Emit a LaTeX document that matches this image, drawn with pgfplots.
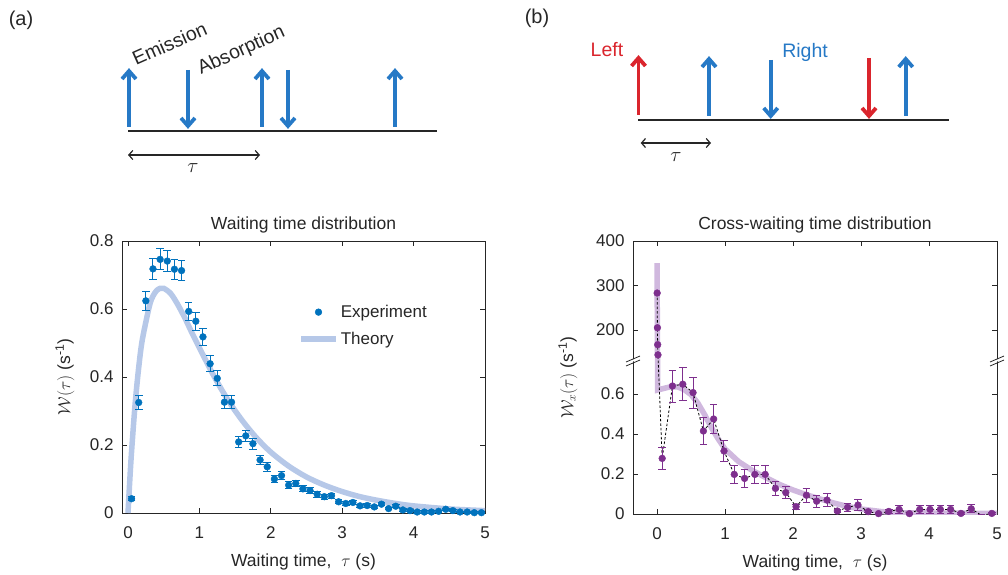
\documentclass[border=0pt]{standalone}
\usepackage{fontspec}
\setmainfont{Liberation Sans}
\usepackage{pgfplots}
\pgfplotsset{compat=1.18}
\usepackage{pgfplotstable}
\usetikzlibrary{arrows.meta}

\definecolor{expblue}{RGB}{0,114,189}
\definecolor{theoblue}{RGB}{182,200,232}
\definecolor{exppurple}{RGB}{126,47,142}
\definecolor{theopurple}{RGB}{208,184,222}
\definecolor{arrblue}{RGB}{38,121,198}
\definecolor{arrred}{RGB}{218,37,45}
\definecolor{txt}{RGB}{38,38,38}

\pgfplotstableread{
x y e
0.05 0.042 0.006
0.15 0.325 0.021
0.25 0.624 0.028
0.35 0.718 0.030
0.45 0.746 0.031
0.55 0.741 0.030
0.65 0.717 0.030
0.75 0.713 0.030
0.85 0.593 0.027
0.95 0.564 0.026
1.05 0.518 0.025
1.15 0.439 0.023
1.25 0.396 0.022
1.35 0.326 0.020
1.45 0.326 0.020
1.55 0.209 0.016
1.65 0.227 0.017
1.75 0.204 0.016
1.85 0.156 0.014
1.95 0.136 0.013
2.05 0.100 0.011
2.15 0.110 0.011
2.25 0.082 0.010
2.35 0.087 0.010
2.45 0.071 0.009
2.55 0.066 0.009
2.65 0.055 0.008
2.75 0.048 0.007
2.85 0.051 0.007
2.95 0.033 0.006
3.05 0.028 0.006
3.15 0.031 0.006
3.25 0.021 0.005
3.35 0.022 0.005
3.45 0.018 0.005
3.55 0.026 0.005
3.65 0.013 0.004
3.75 0.020 0.004
3.85 0.009 0.004
3.95 0.007 0.003
4.05 0.003 0.003
4.15 0.003 0.003
4.25 0.003 0.003
4.35 0.005 0.003
4.45 0.011 0.003
4.55 0.007 0.003
4.65 0.003 0.002
4.75 0.003 0.002
4.85 0.001 0.002
4.95 0.001 0.002
}\leftdata

\pgfplotstableread{
x y
0 0
0.025 0.096
0.05 0.181
0.1 0.321
0.15 0.428
0.2 0.509
0.3 0.609
0.35 0.638
0.4 0.654
0.45 0.661
0.5 0.661
0.6 0.645
0.7 0.612
0.8 0.572
0.9 0.528
1.0 0.486
1.2 0.404
1.4 0.332
1.6 0.272
1.8 0.221
2.0 0.179
2.25 0.138
2.5 0.106
2.75 0.082
3.0 0.063
3.25 0.048
3.5 0.037
3.75 0.028
4.0 0.021
4.5 0.012
5.0 0.007
}\lefttheory

\pgfplotstableread{
x y
0.002 283
0.006 205
0.010 167
0.014 144
}\rightupper

\pgfplotstableread{
x y e
0.076 0.278 0.054
0.227 0.640 0.080
0.379 0.649 0.083
0.530 0.607 0.077
0.682 0.415 0.066
0.833 0.475 0.071
0.985 0.315 0.054
1.136 0.198 0.044
1.288 0.178 0.045
1.439 0.198 0.044
1.591 0.198 0.044
1.742 0.128 0.036
1.894 0.107 0.031
2.045 0.037 0.012
2.197 0.094 0.035
2.348 0.064 0.029
2.500 0.070 0.031
2.652 0.015 0.008
2.803 0.033 0.022
2.955 0.045 0.027
3.106 0.012 0.006
3.258 0.002 0.003
3.409 0.013 0.010
3.561 0.023 0.018
3.712 0.002 0.003
3.864 0.023 0.018
4.015 0.023 0.018
4.167 0.023 0.018
4.318 0.023 0.018
4.470 0.003 0.005
4.621 0.026 0.020
4.773 -0.007 0.003
4.924 0.003 0.005
}\rightdata

\pgfplotstableread{
x y
0.002 283
0.006 205
0.010 167
0.014 144
0.076 0.278
0.227 0.640
0.379 0.649
0.530 0.607
0.682 0.415
0.833 0.475
0.985 0.315
1.136 0.198
1.288 0.178
1.439 0.198
1.591 0.198
1.742 0.128
1.894 0.107
2.045 0.037
2.197 0.094
2.348 0.064
2.500 0.070
2.652 0.015
2.803 0.033
2.955 0.045
3.106 0.012
3.258 0.002
3.409 0.013
3.561 0.023
3.712 0.002
3.864 0.023
4.015 0.023
4.167 0.023
4.318 0.023
4.470 0.003
4.621 0.026
4.773 -0.007
4.924 0.003
}\rightline

\pgfplotstableread{
x y
0 350
0.01 0.62
0.1 0.628
0.2 0.636
0.3 0.636
0.4 0.622
0.5 0.597
0.6 0.555
0.7 0.497
0.8 0.432
0.9 0.375
1.0 0.325
1.2 0.262
1.4 0.218
1.6 0.182
1.8 0.148
2.0 0.120
2.2 0.096
2.4 0.075
2.6 0.055
2.8 0.038
3.0 0.025
3.3 0.012
3.6 0.006
4.0 0.005
4.5 0.004
5.0 0.003
}\righttheory

\pgfplotsset{
  panel/.style={
    scale only axis, anchor=south west,
    axis line style={black!85, line width=0.9pt},
    tick style={black!85, line width=0.9pt},
    major tick length=5pt,
    tick align=inside,
    xtick={0,1,2,3,4,5},
    ticklabel style={font=\fontsize{17}{20}\selectfont, text=txt},
    xticklabel style={yshift=-10pt},
    yticklabel style={xshift=-5pt},
    /pgf/number format/assume math mode=true,
    every axis title/.style={at={(rel axis cs:0.5,1)}, anchor=base, yshift=11.5pt, font=\fontsize{17.5}{21}\selectfont, text=txt},
    every axis x label/.style={at={(rel axis cs:0.5,0)}, anchor=base, yshift=-53pt, font=\fontsize{17.5}{21}\selectfont, text=txt},
    xlabel={Waiting time,\ \ $\tau$ (s)},
  },
  theolegend/.style={legend image code/.code={\draw[##1] (0pt,0pt) -- (35pt,0pt);}},
  explegend/.style={legend image code/.code={\draw[##1] plot coordinates {(17.5pt,0pt)}; \path (0pt,0pt) (35pt,0pt);}},
}

\newcommand{\uarr}[4]{%
  \draw[#1, line width=3.8pt] (#2,#3) -- (#2,#4-1);
  \draw[#1, line width=3.8pt, line join=miter] (#2-7,#4-8) -- (#2,#4) -- (#2+7,#4-8);}
\newcommand{\darr}[4]{%
  \draw[#1, line width=3.8pt] (#2,#3) -- (#2,#4+1);
  \draw[#1, line width=3.8pt, line join=miter] (#2-7,#4+8) -- (#2,#4) -- (#2+7,#4+8);}

\begin{document}
\begin{tikzpicture}[x=1pt,y=1pt]
\useasboundingbox (0,0) rectangle (1008,574);

% ---------- panel (a) plot ----------
\begin{axis}[panel, at={(122pt,61pt)}, width=363pt, height=272pt,
  xmin=-0.084, xmax=5, ymin=0, ymax=0.8,
  ytick={0,0.2,0.4,0.6,0.8},
  title={Waiting time distribution},
  ylabel={$\mathcal{W}(\tau)$ (s\textsuperscript{-1})},
  every axis y label/.style={at={(rel axis cs:-0.157,0.5)}, rotate=90, anchor=center, font=\fontsize{17.5}{21}\selectfont, text=txt},
  reverse legend, legend cell align=left,
  legend style={at={(rel axis cs:0.485,0.772)}, anchor=north west, draw=none, fill=none, inner sep=0pt, row sep=9pt, font=\fontsize{17}{20}\selectfont, text=txt},
]
\addplot[theoblue, line width=5.5pt, smooth, tension=0.5, theolegend] table[x=x,y=y] {\lefttheory};
\addlegendentry{Theory}
\addplot[expblue, only marks, mark=*, mark size=3.4pt, explegend,
  error bars/.cd, y dir=both, y explicit,
  error bar style={expblue, line width=1pt},
  error mark options={rotate=90, expblue, line width=1pt, mark size=3.8pt}]
  table[x=x, y=y, y error=e] {\leftdata};
\addlegendentry{Experiment}
\end{axis}

% ---------- panel (b) plot ----------
\begin{axis}[panel, at={(633pt,60pt)}, width=364pt, height=273pt,
  xmin=-0.353, xmax=5, ymin=0, ymax=1.365,
  ytick={0,0.2,0.4,0.6,0.9202,1.1427,1.365},
  yticklabels={0,0.2,0.4,0.6,200,300,400},
  title={Cross-waiting time distribution},
  ylabel={$\mathcal{W}_x(\tau)$ (s\textsuperscript{-1})},
  every axis y label/.style={at={(rel axis cs:-0.179,0.5)}, rotate=90, anchor=center, font=\fontsize{17.5}{21}\selectfont, text=txt},
  y filter/.expression={y>1 ? 0.76+(y-128)*0.002225 : y},
]
\addplot[theopurple, line width=5.5pt] table[x=x,y=y] {\righttheory};
\addplot[black, line width=0.8pt, dash pattern=on 2.5pt off 2pt] table[x=x,y=y] {\rightline};
\addplot[exppurple, only marks, mark=*, mark size=3.4pt] table[x=x,y=y] {\rightupper};
\addplot[exppurple, only marks, mark=*, mark size=3.4pt,
  error bars/.cd, y dir=both, y explicit,
  error bar style={exppurple, line width=1pt},
  error mark options={rotate=90, exppurple, line width=1pt, mark size=3.8pt}]
  table[x=x, y=y, y error=e] {\rightdata};
\end{axis}

% axis breaks
\foreach \bx in {633,997}{
  \fill[white] (\bx-7,209.5) -- (\bx+7,215.5) -- (\bx+7,217.5) -- (\bx-7,211.5) -- cycle;
  \draw[black!85, line width=0.8pt] (\bx-7,208) -- (\bx+7,214);
  \draw[black!85, line width=0.8pt] (\bx-7,212) -- (\bx+7,218);
}

% ---------- diagram (a) ----------
\node[font=\fontsize{20}{24}\selectfont, text=txt] at (21,554) {(a)};
\draw[black!85, line width=1.3pt] (128,443) -- (437,443);
\uarr{arrblue}{129}{447}{503}
\darr{arrblue}{188}{504}{448}
\uarr{arrblue}{262}{447}{503}
\darr{arrblue}{288}{504}{448}
\uarr{arrblue}{395}{447}{503}
\node[rotate=24, anchor=base west, font=\fontsize{19.5}{23}\selectfont, text=txt, inner sep=0pt] at (136,508) {Emission};
\node[rotate=24.5, anchor=base west, font=\fontsize{19.5}{23}\selectfont, text=txt, inner sep=0pt] at (201,499) {Absorption};
\draw[black!85, line width=1.2pt, {Straight Barb[length=4pt,width=9pt]}-{Straight Barb[length=4pt,width=9pt]}] (128,419) -- (260,419);
\node[font=\fontsize{20}{24}\selectfont, text=txt] at (193,406) {$\tau$};

% ---------- diagram (b) ----------
\node[font=\fontsize{20}{24}\selectfont, text=txt] at (537,556) {(b)};
\draw[black!85, line width=1.3pt] (638,454) -- (949,454);
\uarr{arrred}{638.5}{459}{516}
\uarr{arrblue}{709}{458}{515}
\darr{arrblue}{770.7}{514}{458}
\darr{arrred}{869}{516}{458}
\uarr{arrblue}{905.7}{458}{515}
\node[font=\fontsize{19.5}{23}\selectfont, text=arrred] at (607,524) {Left};
\node[font=\fontsize{19.5}{23}\selectfont, text=arrblue, anchor=base] at (805,516) {Right};
\draw[black!85, line width=1.2pt, {Straight Barb[length=4pt,width=9pt]}-{Straight Barb[length=4pt,width=9pt]}] (640.7,431) -- (711,431);
\node[font=\fontsize{20}{24}\selectfont, text=txt] at (676,417) {$\tau$};
\end{tikzpicture}
\end{document}
